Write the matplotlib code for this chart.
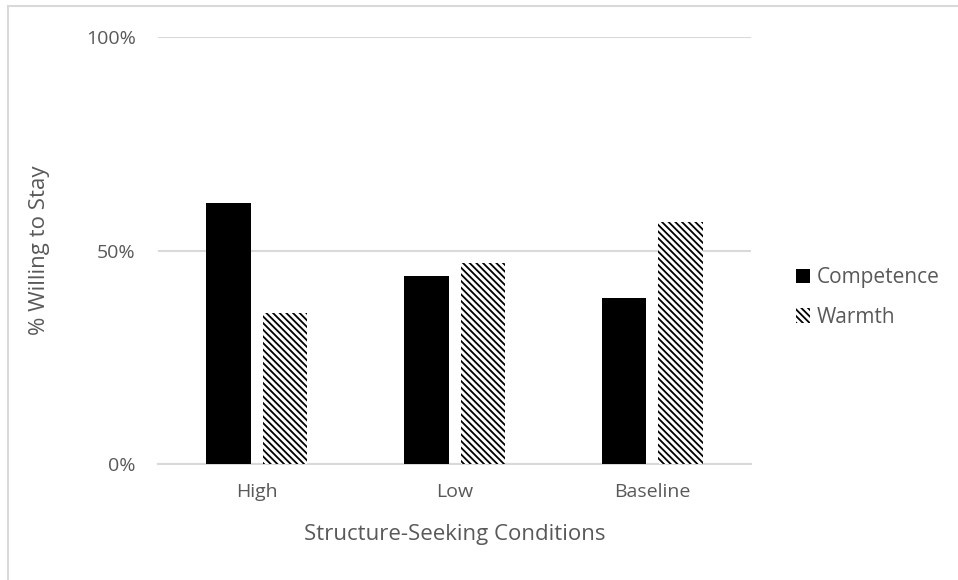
import matplotlib.pyplot as plt
import matplotlib.patches as mpatches
import numpy as np

# data
CATEGORIES	= ["High", "Low", "Baseline"]
COMPETENCE	= [61.1, 44.0, 38.9]
WARMTH		= [35.4, 47.2, 56.6]
SERIES_NAMES	= ["Competence", "Warmth"]
Y_TICKS		= [0, 50, 100]
Y_TICK_LABELS	= ["0%", "50%", "100%"]

TEXT_COLOR	= "#595959"
GRID_COLOR	= "#d9d9d9"

plt.rcParams['font.family'] = ['Open Sans', 'DejaVu Sans']
plt.rcParams['hatch.linewidth'] = 1.3

fig = plt.figure(figsize=(9.58, 5.8), dpi=100)
ax = fig.add_axes([0.165, 0.2, 0.619, 0.736])

x = np.arange(len(CATEGORIES))
w = 0.225
gap = 0.06
ax.bar(x - (w + gap)/2, COMPETENCE, width=w, color="black", label=SERIES_NAMES[0], zorder=3)
ax.bar(x + (w + gap)/2, WARMTH, width=w, color="white", edgecolor="black",
       hatch="\\\\\\\\\\", linewidth=0, label=SERIES_NAMES[1], zorder=3)

ax.set_xlim(-0.5, len(CATEGORIES) - 0.5)
ax.set_ylim(0, 100)
ax.set_yticks(Y_TICKS)
ax.set_yticklabels(Y_TICK_LABELS)
ax.set_xticks(x)
ax.set_xticklabels(CATEGORIES)
ax.tick_params(axis='both', length=0, labelsize=14, colors=TEXT_COLOR)
ax.tick_params(axis='y', pad=16)
ax.tick_params(axis='x', pad=14)

for s in ["top", "right", "left"]:
	ax.spines[s].set_visible(False)
ax.spines["bottom"].set_color(GRID_COLOR)
ax.spines["bottom"].set_linewidth(1.5)
ax.yaxis.grid(True, color=GRID_COLOR, linewidth=1.5, zorder=0)
ax.set_axisbelow(True)

ax.set_xlabel("Structure-Seeking Conditions", fontsize=16, color=TEXT_COLOR, labelpad=16)
ax.set_ylabel("% Willing to Stay", fontsize=16, color=TEXT_COLOR, labelpad=26)

leg = ax.legend(loc="center left", bbox_to_anchor=(1.044, 0.39), frameon=False,
                fontsize=15, handlelength=0.7, handleheight=0.7, handletextpad=0.3,
                labelspacing=0.9, labelcolor=TEXT_COLOR)

# chart border
fig.patches.append(mpatches.Rectangle((8/958, -0.1), 1.1, 1 - 6/580 + 0.1,
                   transform=fig.transFigure, fill=False, edgecolor=GRID_COLOR, linewidth=1.5))

fig.savefig("out.png", dpi=100)
